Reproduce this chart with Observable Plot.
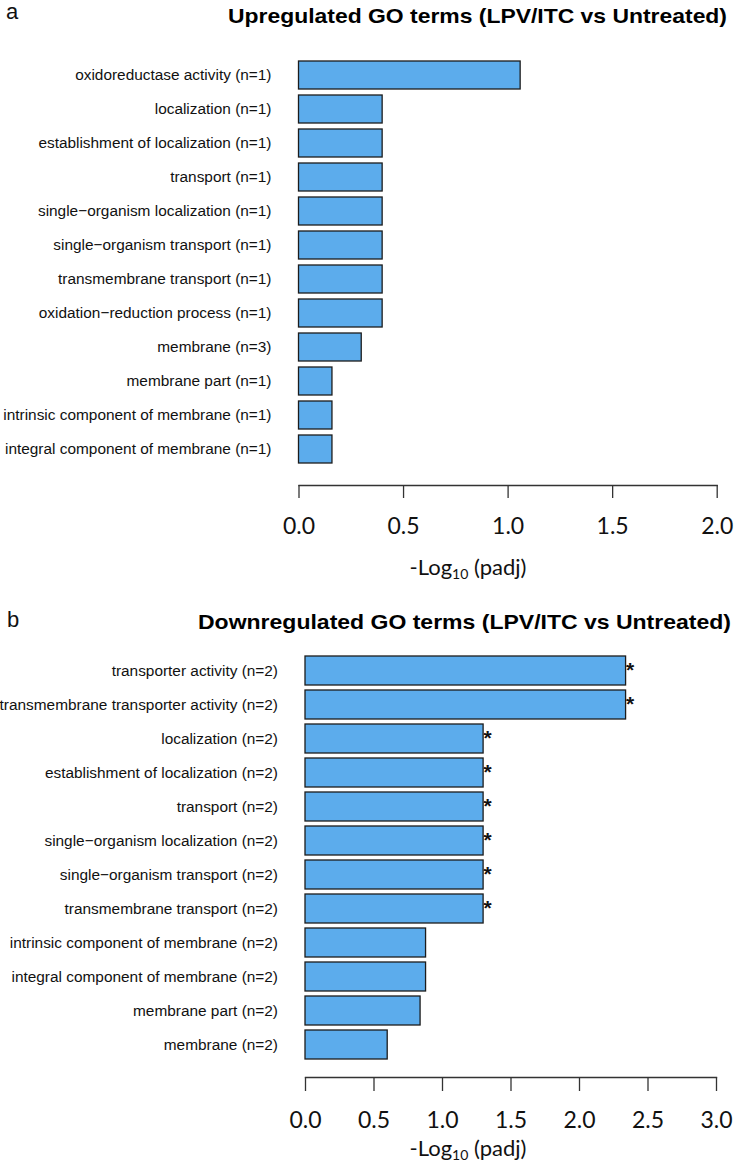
<!DOCTYPE html>
<html><head><meta charset="utf-8">
<script src="https://cdn.jsdelivr.net/npm/d3@7"></script>
<script src="https://cdn.jsdelivr.net/npm/@observablehq/plot@0.6"></script>
<style>
body{margin:0;background:#fff;}
#wrap{position:relative;width:734px;height:1165px;overflow:hidden;background:#fff;}
.abs{position:absolute;white-space:nowrap;}
.panel{font-family:"Liberation Sans",Arial,sans-serif;font-size:22px;line-height:24.6px;color:#111;}
.title{font-family:"Liberation Sans",Arial,sans-serif;font-weight:bold;font-size:21px;line-height:22px;color:#000;transform-origin:0 50%;}
.xlab{font-family:Lato,sans-serif;font-size:22px;line-height:20px;color:#111;transform:translateX(-50%);}
.xlab sub{font-size:14px;vertical-align:-4px;line-height:0;}
</style></head><body><div id="wrap"></div>
<script>
// Panel a: upregulated GO terms
const upTerms = [
  "oxidoreductase activity (n=1)",
  "localization (n=1)",
  "establishment of localization (n=1)",
  "transport (n=1)",
  "single\u2212organism localization (n=1)",
  "single\u2212organism transport (n=1)",
  "transmembrane transport (n=1)",
  "oxidation\u2212reduction process (n=1)",
  "membrane (n=3)",
  "membrane part (n=1)",
  "intrinsic component of membrane (n=1)",
  "integral component of membrane (n=1)"
];
const upValues = [1.06, 0.40, 0.40, 0.40, 0.40, 0.40, 0.40, 0.40, 0.30, 0.16, 0.16, 0.16];
const upTicks = [0, 0.5, 1.0, 1.5, 2.0];

// Panel b: downregulated GO terms
const downTerms = [
  "transporter activity (n=2)",
  "transmembrane transporter activity (n=2)",
  "localization (n=2)",
  "establishment of localization (n=2)",
  "transport (n=2)",
  "single\u2212organism localization (n=2)",
  "single\u2212organism transport (n=2)",
  "transmembrane transport (n=2)",
  "intrinsic component of membrane (n=2)",
  "integral component of membrane (n=2)",
  "membrane part (n=2)",
  "membrane (n=2)"
];
const downValues = [2.34, 2.34, 1.30, 1.30, 1.30, 1.30, 1.30, 1.30, 0.88, 0.88, 0.84, 0.60];
const downSig = [true, true, true, true, true, true, true, true, false, false, false, false];
const downTicks = [0, 0.5, 1.0, 1.5, 2.0, 2.5, 3.0];

const titleA = "Upregulated GO terms (LPV/ITC vs Untreated)";
const titleB = "Downregulated GO terms (LPV/ITC vs Untreated)";
const axisTitle = ["-Log", "10", " (padj)"];

const upData = upTerms.map((t, i) => ({term: t, value: upValues[i]}));
const downData = downTerms.map((t, i) => ({term: t, value: downValues[i], sig: downSig[i]}));

const BAR_FILL = "#5CACEC";
const BAR_STROKE = "#1c1c1c";
const AX = "#333";

function makePanel({data, terms, ticks, domain, height, marginBottom, marginLeft, marginRight, yRange, padding, tickSize, tickPadding, stars}) {
  const marks = [
    Plot.barX(data, {x: "value", y: "term", fill: BAR_FILL, stroke: BAR_STROKE, strokeWidth: 1.3}),
    Plot.axisY({tickSize: 0, tickPadding: 27.5, fontSize: 15.4, fontFamily: "Liberation Sans, Arial, sans-serif", fill: "#111", label: null}),
    Plot.axisX({ticks, tickSize, tickPadding, tickFormat: d3.format(".1f"), fontSize: 23, fontFamily: "Lato, sans-serif", fill: "#111", stroke: AX, strokeWidth: 1.3, label: null}),
    Plot.frame({anchor: "bottom", stroke: AX, strokeWidth: 1.3})
  ];
  if (stars) marks.push(Plot.text(data.filter(d => d.sig), {x: "value", y: "term", text: () => "*", textAnchor: "start", dx: 0, dy: -1, fontSize: 21, fontWeight: "bold", fontFamily: "Liberation Sans, Arial, sans-serif", fill: "#111"}));
  return Plot.plot({
    width: 734, height, marginTop: 0, marginBottom, marginLeft, marginRight,
    style: {background: "transparent", overflow: "visible"},
    x: {domain, ticks},
    y: {domain: terms, range: yRange, padding, align: 0.5},
    marks
  });
}

const wrap = document.getElementById("wrap");

const pa = makePanel({data: upData, terms: upTerms, ticks: upTicks, domain: [0, 2],
  height: 600, marginBottom: 115, marginLeft: 298.5, marginRight: 17.3,
  yRange: [49.9, 473.9], padding: 0.168, tickSize: 13, tickPadding: 19, stars: false});
pa.style.position = "absolute"; pa.style.left = "0px"; pa.style.top = "0px";
wrap.appendChild(pa);

const pb = makePanel({data: downData, terms: downTerms, ticks: downTicks, domain: [0, 3],
  height: 565, marginBottom: 88, marginLeft: 305, marginRight: 18,
  yRange: [49.0, 466.0], padding: 0.155, tickSize: 14, tickPadding: 20, stars: true});
pb.style.position = "absolute"; pb.style.left = "0px"; pb.style.top = "600px";
wrap.appendChild(pb);

function addDiv(cls, html, left, top) {
  const d = document.createElement("div");
  d.className = "abs " + cls;
  d.innerHTML = html;
  d.style.left = left + "px"; d.style.top = top + "px";
  wrap.appendChild(d);
  return d;
}
addDiv("panel", "a", 6, 0);
addDiv("panel", "b", 7, 607.5);
function fitTitle(text, left, top, width) {
  const d = addDiv("title", "", left, top);
  d.textContent = text;
  const w = d.getBoundingClientRect().width;
  d.style.transform = `scaleX(${width / w})`;
}
fitTitle(titleA, 228, 5, 499);
fitTitle(titleB, 198, 611, 533);
addDiv("xlab", `${axisTitle[0]}<sub>${axisTitle[1]}</sub>${axisTitle[2]}`, 468, 557);
addDiv("xlab", `${axisTitle[0]}<sub>${axisTitle[1]}</sub>${axisTitle[2]}`, 468, 1138);
</script>
</body></html>
